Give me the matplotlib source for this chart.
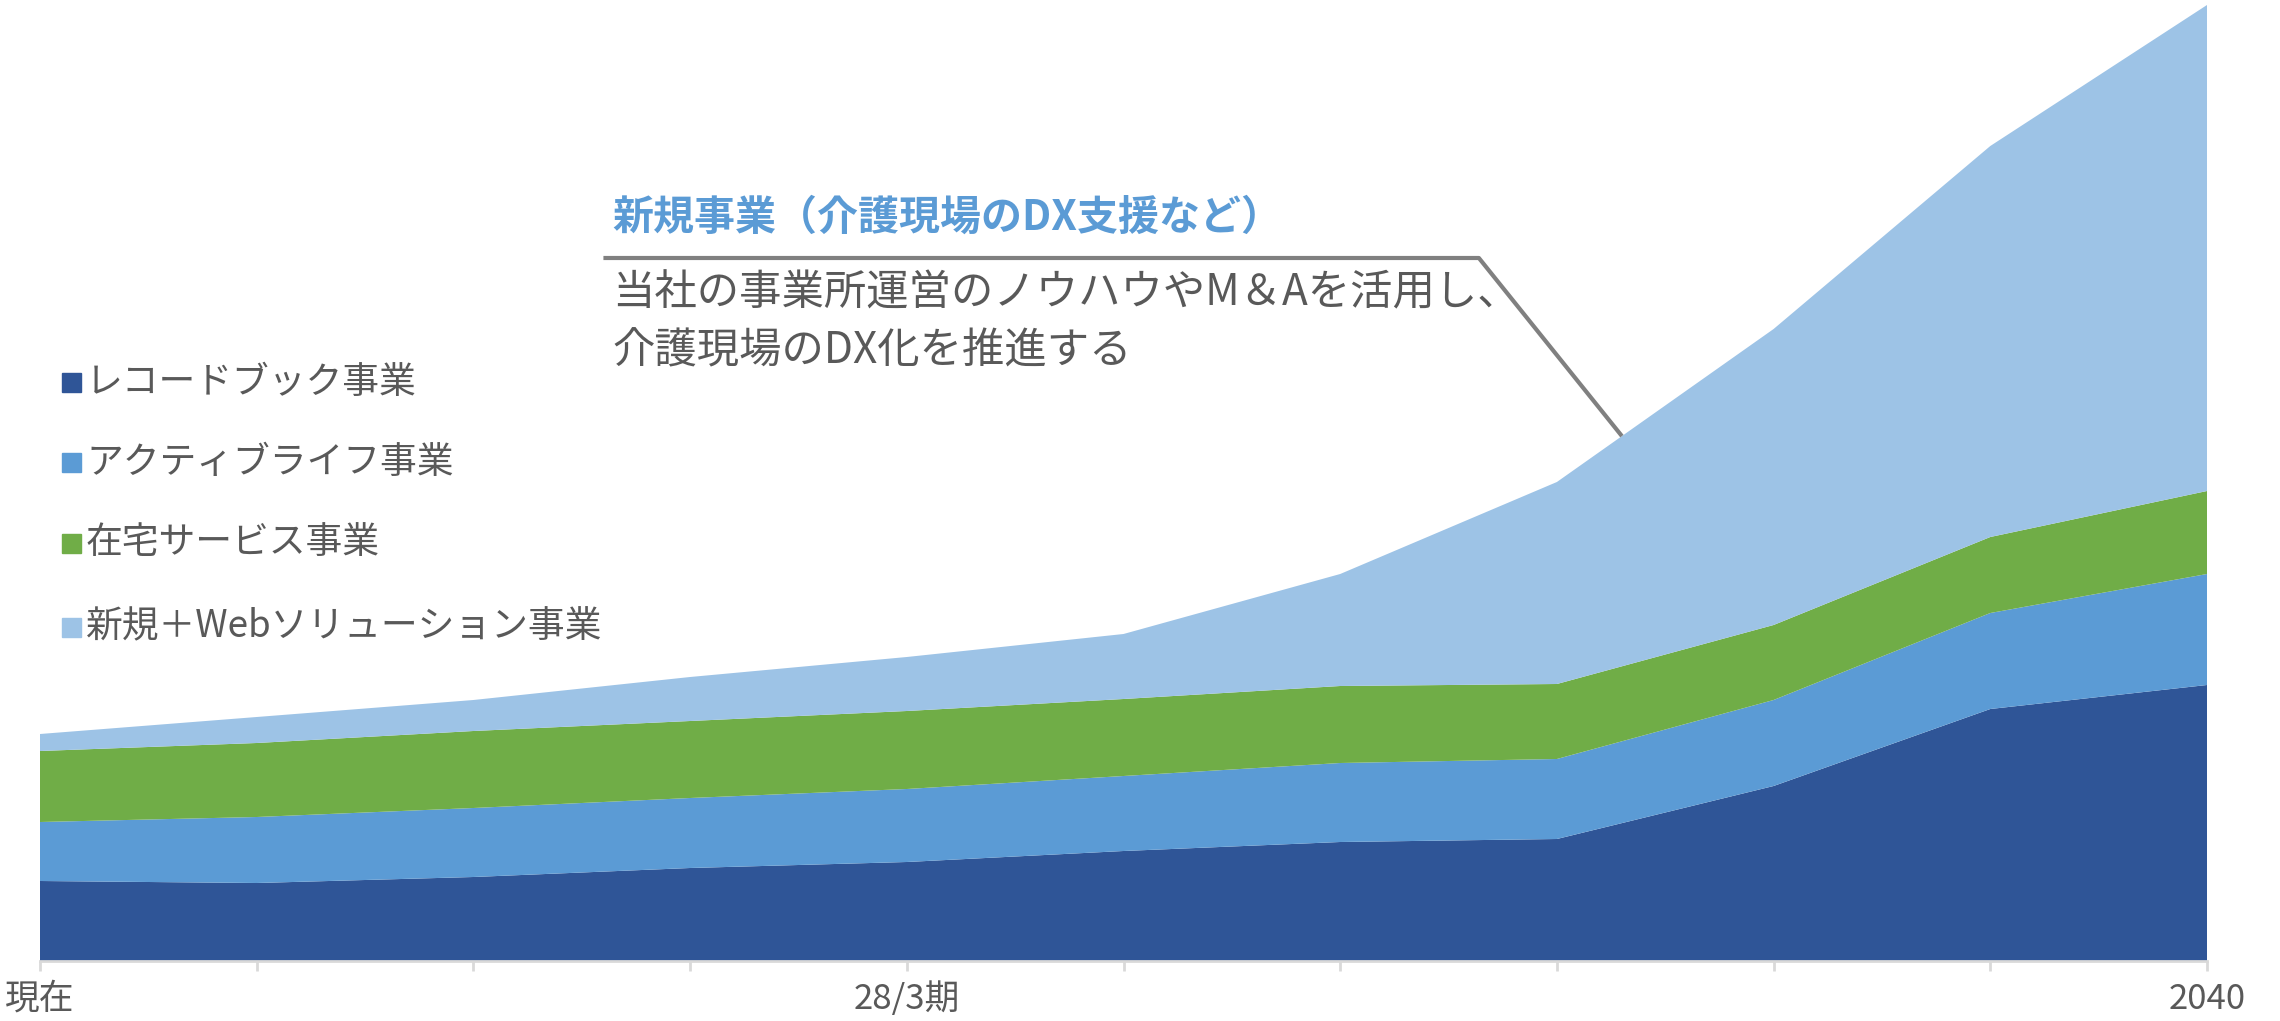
import numpy as np
import matplotlib
matplotlib.use('Agg')
import matplotlib.pyplot as plt

plt.rcParams['font.family'] = ['Noto Sans CJK JP', 'DejaVu Sans']

# データ
periods = list(range(11))
tick_labels = ['現在', '', '', '', '28/3期', '', '', '', '', '', '2040']
record_book = [80, 78, 84, 93, 99, 110, 119, 122, 175, 252, 276]
active_life = [59, 66, 69, 70, 73, 75, 79, 80, 86, 96, 111]
home_service = [71, 74, 77, 77, 78, 77, 77, 75, 75, 76, 83]
new_web = [17, 26, 31, 44, 54, 65, 112, 202, 296, 391, 486]

series_names = ['レコードブック事業', 'アクティブライフ事業', '在宅サービス事業', '新規＋Webソリューション事業']
colors = ['#2F5597', '#5B9BD5', '#70AD47', '#9DC3E6']
text_gray = '#595959'

W, H = 2280, 1021
fig = plt.figure(figsize=(W / 100, H / 100), dpi=100)


def fx(px):
    return px / W


def fy(py):
    return 1 - py / H


ax = fig.add_axes([fx(40), fy(961), fx(2207) - fx(40), fy(0) - fy(961)])
ax.stackplot(periods, record_book, active_life, home_service, new_web,
             colors=colors, linewidth=0)
ax.set_xlim(0, 10)
ax.set_ylim(0, 961)

for side in ['top', 'right', 'left']:
    ax.spines[side].set_visible(False)
ax.spines['bottom'].set_color('#D9D9D9')
ax.spines['bottom'].set_linewidth(2)
ax.set_yticks([])
ax.set_xticks(periods)
ax.set_xticklabels(tick_labels, fontsize=25, color=text_gray)
ax.tick_params(axis='x', direction='out', length=7, width=2, color='#D9D9D9', pad=8)

# 凡例
legend_y = [382, 462, 543, 627]
for name, c, y in zip(series_names, colors, legend_y):
    fig.patches.append(plt.Rectangle((fx(62), fy(y + 10)), 19 / W, 19 / H,
                                     transform=fig.transFigure, color=c))
    fig.text(fx(86), fy(y), name, fontsize=26.5, color=text_gray, va='center', ha='left')

# 注記
fig.text(fx(612), fy(218), '新規事業（介護現場のDX支援など）', fontsize=29.5,
         fontweight='bold', color='#5B9BD5', va='center', ha='left')
fig.text(fx(612), fy(293), '当社の事業所運営のノウハウやM＆Aを活用し、', fontsize=30.5,
         color=text_gray, va='center', ha='left')
fig.text(fx(612), fy(351), '介護現場のDX化を推進する', fontsize=30.5,
         color=text_gray, va='center', ha='left')

total = np.array(record_book) + np.array(active_life) + np.array(home_service) + np.array(new_web)
tip_x = 7.3
tip_y = np.interp(tip_x, periods, total)
line_y = 961 - 258
ax.plot([2.6, 6.64, tip_x], [line_y, line_y, tip_y], color='#808080', lw=3,
        clip_on=False, solid_capstyle='butt')

fig.savefig('out.png', dpi=100)
